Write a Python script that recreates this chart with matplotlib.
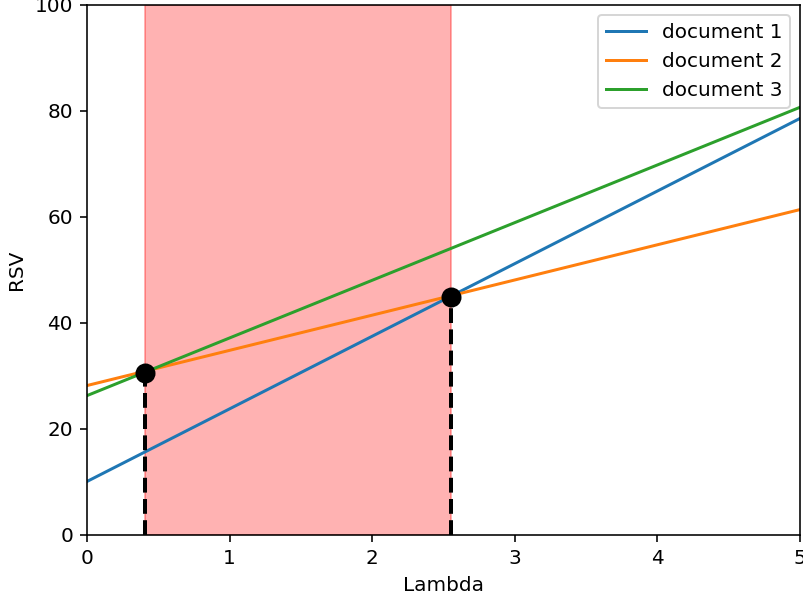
import matplotlib
matplotlib.use('Agg')
import matplotlib.pyplot as plt

# RSV at lambda = 0 and lambda = 5 for each document
lambdas = [0, 5]
doc1_rsv = [10.1, 78.6]
doc2_rsv = [28.2, 61.4]
doc3_rsv = [26.3, 80.7]
labels = ['document 1', 'document 2', 'document 3']

# points where the top-ranked document changes
switch_lambda = [0.41, 2.55]
switch_rsv = [30.6, 45.0]

DPI = 144
fig = plt.figure(figsize=(803 / DPI, 602 / DPI), dpi=DPI)
ax = fig.add_axes([87 / 803, 67 / 602, 713 / 803, 530 / 602])

for vals, lab in zip([doc1_rsv, doc2_rsv, doc3_rsv], labels):
    ax.plot(lambdas, vals, label=lab)

ax.axvspan(switch_lambda[0], switch_lambda[1], color='red', alpha=0.3)

for lx, ly in zip(switch_lambda, switch_rsv):
    ax.plot([lx, lx], [0, ly], 'k--', lw=2)
ax.plot(switch_lambda, switch_rsv, 'ko', markersize=9)

ax.set_xlim(0, 5)
ax.set_ylim(0, 100)
ax.set_xlabel('Lambda')
ax.set_ylabel('RSV')
ax.legend(loc='upper right')

fig.savefig('out.png', dpi=DPI)
